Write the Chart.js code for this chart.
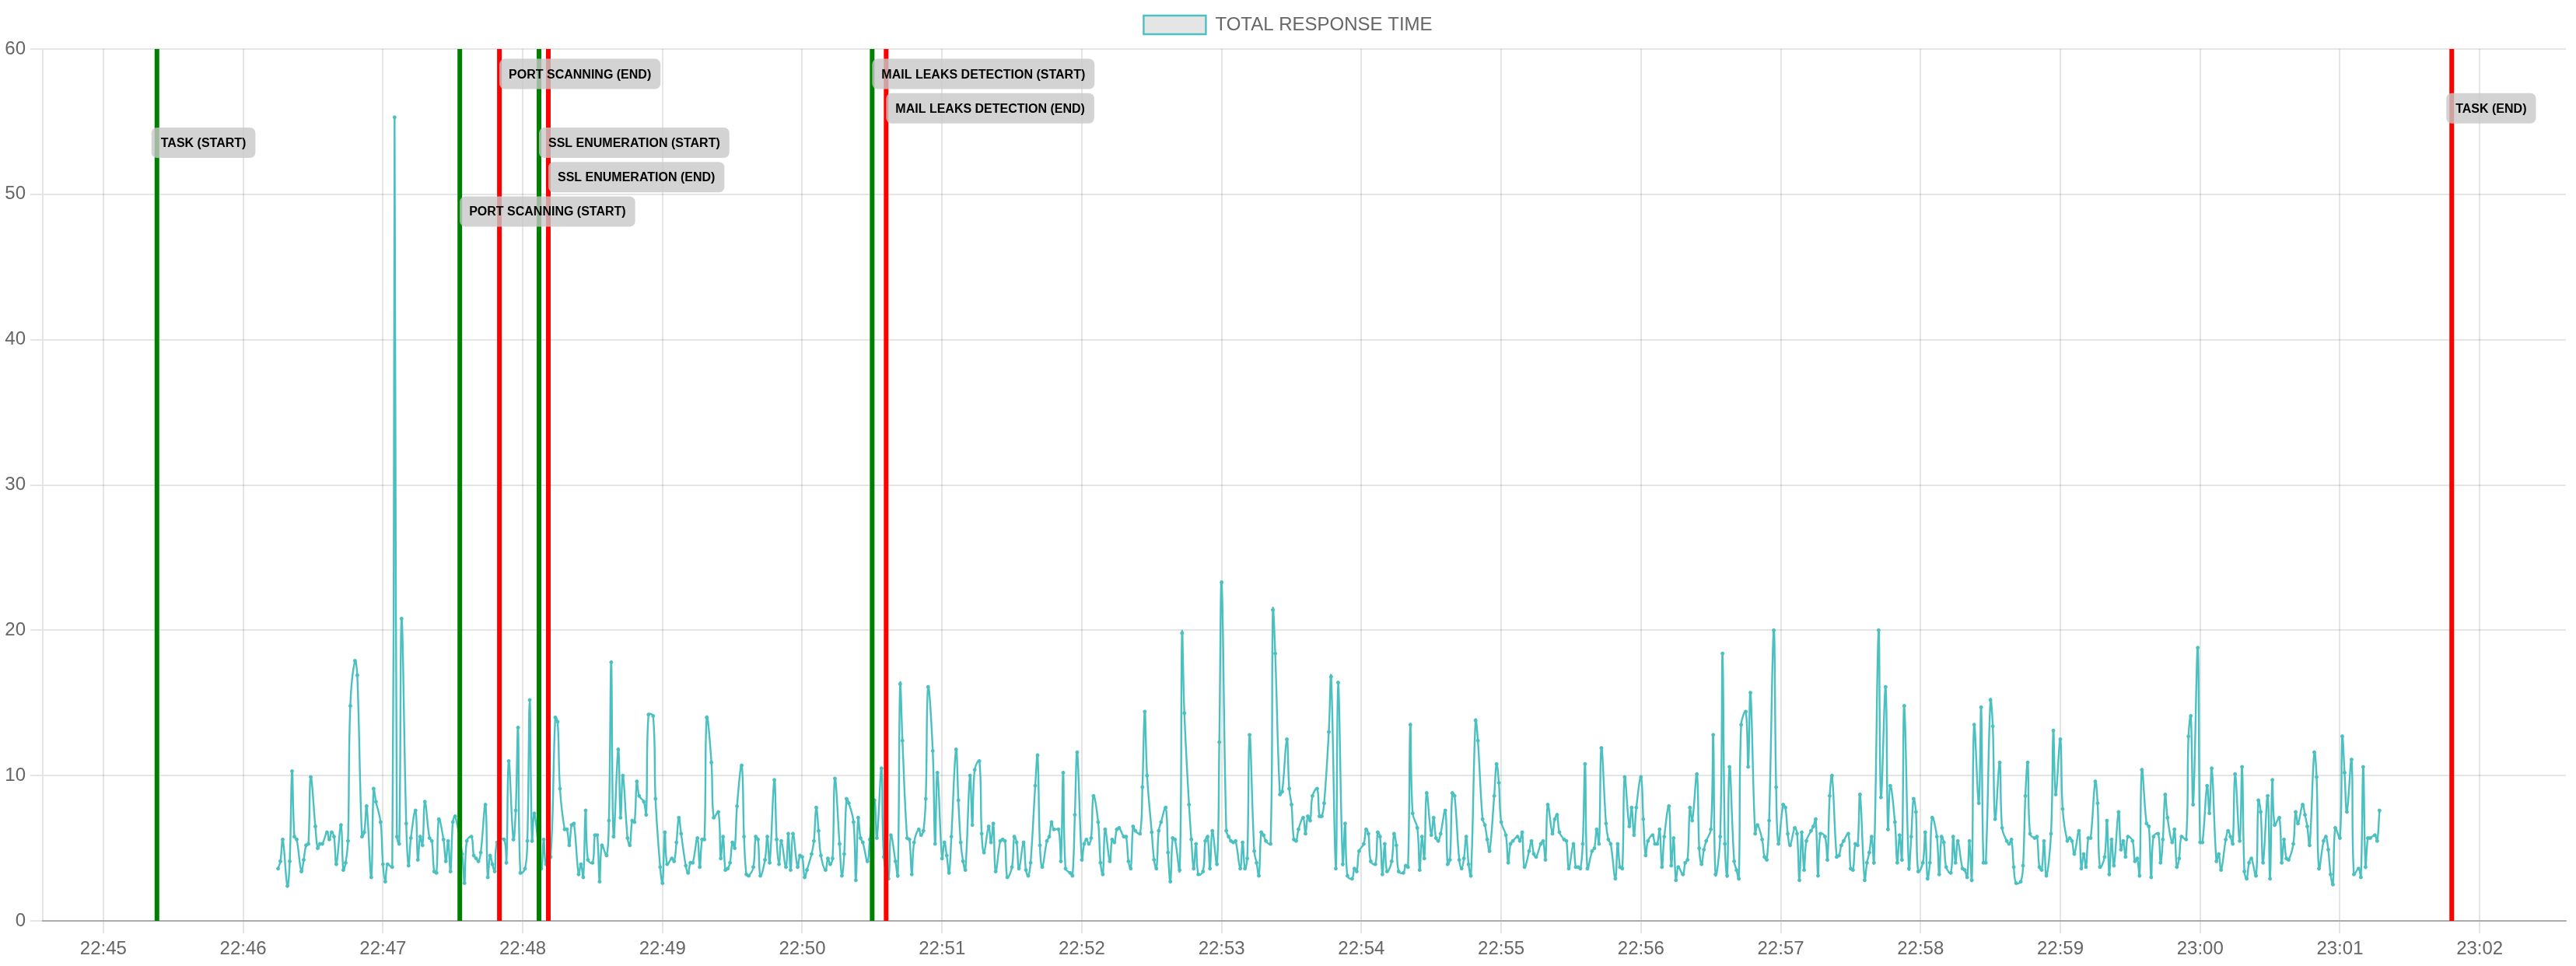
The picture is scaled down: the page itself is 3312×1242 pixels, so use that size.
<!DOCTYPE html>
<html lang="en">
<head>
  <meta charset="UTF-8" />
  <title>Total response time</title>
  <script src="https://cdn.jsdelivr.net/npm/chart.js"></script>
  <style>
    html, body { margin: 0; padding: 0; background: #fff; }
    .chart-box { width: 3312px; height: 1242px; }
  </style>
</head>
<body>
  <div class="chart-box"><canvas id="responseChart"></canvas></div>

  <script>
    // x values are seconds after 22:45:00
    const tickLabels = ['22:45', '22:46', '22:47', '22:48', '22:49', '22:50', '22:51', '22:52', '22:53',
      '22:54', '22:55', '22:56', '22:57', '22:58', '22:59', '23:00', '23:01', '23:02'];

    const timeSeconds = [
      75, 76, 77, 79, 80, 81, 82, 83, 85, 86, 87, 88, 89, 91, 92, 93, 94, 96, 97, 98,
      99, 100, 102, 103, 104, 105, 106, 108, 109, 111, 112, 113, 115, 116, 117, 119, 120, 121, 122, 124,
      125, 126, 127, 128, 130, 131, 132, 134, 135, 136, 137, 138, 140, 141, 142, 143, 144, 146, 147, 148,
      149, 150, 151, 154, 155, 156, 158, 159, 160, 161, 162, 164, 165, 166, 167, 168, 169, 172, 173, 174,
      176, 177, 178, 179,
      181, 182, 183, 184, 185, 188, 189, 190, 192, 194, 195, 196, 198, 199, 200, 201, 202, 204, 205, 206,
      207, 208, 210, 211, 212, 213, 214, 216, 217, 218, 219, 221, 222, 223, 225, 226, 227, 228, 229, 230,
      232, 233, 234, 236, 237, 239, 240, 241, 242, 244, 245, 246, 247, 248, 250, 251, 252, 253, 255, 256,
      257, 258, 259, 261, 262, 264, 265, 266, 267, 268, 269, 270, 271, 272, 274, 275, 276, 277, 279, 280,
      281, 282, 284, 285, 286, 288, 289, 290, 291, 293, 294,
      295, 296, 298, 299, 300, 301, 302, 304, 305, 306, 307, 308, 310, 311, 312, 313, 314, 316, 317, 318,
      319, 320, 322, 323, 324, 325, 326, 328, 329, 331, 332, 334, 335, 337, 338, 340, 341, 342, 343, 345,
      346, 347, 348, 350, 351, 352, 353, 354, 356, 357, 358, 360, 361, 362, 363, 364, 366, 367, 368, 369,
      370, 372, 373, 374, 376, 377, 378, 380, 381, 382, 383, 385, 386, 387, 388, 390, 391, 392, 393, 395,
      396, 397, 398, 400, 401, 402, 403, 405, 406, 407, 408,
      410, 411, 412, 413, 415, 416, 417, 418, 420, 421, 422, 423, 424, 425, 427, 428, 429, 430, 432, 433,
      434, 435, 436, 438, 439, 440, 441, 442, 443, 445, 446, 447, 448, 450, 451, 452, 453, 454, 456, 457,
      458, 459, 460, 462, 463, 464, 466, 467, 468, 469, 470, 472, 473, 474, 475, 476, 478, 479, 480, 482,
      483, 484, 485, 486, 488, 489, 490, 491, 492, 494, 495, 496, 497, 498, 499, 501, 502, 503, 505, 506,
      508, 509, 510, 511, 512, 513, 515, 516, 517, 518, 519, 521, 522,
      523, 524, 526, 527, 529, 530, 532, 533, 534, 536, 537, 538, 539, 541, 542, 543, 544, 546, 547, 548,
      549, 550, 551, 553, 554, 555, 556, 558, 559, 560, 561, 562, 564, 565, 566, 567, 568, 570, 571, 572,
      573, 574, 576, 577, 578, 579, 580, 582, 583, 584, 585, 586, 587, 589, 590, 592, 593, 594, 595, 597,
      598, 599, 600, 602, 603, 604, 605, 607, 608, 609, 610, 612, 613, 614, 615, 617, 618, 619, 620, 622,
      623, 624, 625, 627, 628, 629, 631, 632, 633, 634, 635,
      636, 637, 639, 640, 641, 642, 643, 645, 646, 647, 649, 650, 651, 652, 653, 655, 656, 657, 658, 660,
      661, 662, 663, 665, 666, 667, 668, 669, 670, 672, 673, 674, 675, 676, 678, 679, 680, 681, 682, 684,
      685, 686, 687, 688, 690, 691, 692, 694, 695, 696, 697, 698, 700, 701, 702, 703, 705, 706, 707, 709,
      710, 712, 713, 714, 715, 717, 718, 719, 721, 722, 723, 724, 726, 727, 728, 729, 730, 731, 733, 734,
      735, 736, 737, 739, 740, 741, 742, 744, 745, 746, 747,
      749, 750, 751, 752, 753, 754, 756, 757, 758, 759, 760, 762, 763, 765, 766, 767, 769, 770, 771, 772,
      773, 775, 776, 777, 778, 779, 781, 782, 783, 784, 785, 787, 788, 789, 790, 791, 793, 794, 795, 796,
      798, 799, 800, 801, 802, 803, 805, 806, 807, 808, 810, 811, 812, 814, 815, 817, 818, 819, 820, 821,
      823, 824, 825, 826, 827, 829, 830, 831, 832, 833, 834, 836, 837, 838, 840, 841, 843, 844, 845, 846,
      848, 849, 850, 851, 852, 853, 855, 856, 857, 859, 860, 861, 862,
      863, 865, 866, 867, 868, 869, 871, 872, 873, 874, 875, 877, 878, 879, 880, 882, 883, 884, 885, 886,
      888, 889, 890, 891, 892, 894, 895, 896, 897, 899, 900, 901, 903, 904, 905, 907, 908, 909, 911, 912,
      913, 914, 915, 917, 918, 919, 920, 921, 922, 924, 925, 926, 927, 929, 930, 931, 932, 934, 935, 936,
      937, 938, 940, 941, 942, 944, 945, 946, 947, 949, 950, 951, 953, 954, 955, 956, 957, 958, 960, 961,
      962, 963, 965, 966, 968, 969, 970, 971, 972, 973, 975, 976, 977
    ];

    const responseTime = [
      3.6, 4.1, 5.6, 2.4, 4.1, 10.3, 5.8, 5.6, 3.4, 4.2, 5.2, 5.3, 9.9, 6.5, 5.0, 5.3, 5.3, 6.1, 5.6, 6.1,
      5.8, 3.9, 6.6, 3.5, 4.0, 5.5, 14.8, 17.9, 16.9, 5.8, 6.1, 7.9, 3.0, 9.1, 8.2, 6.8, 3.9, 2.7, 3.9, 3.7,
      55.3, 5.8, 5.3, 20.8, 6.7, 3.8, 5.7, 7.6, 4.2, 5.8, 5.2, 8.2, 5.7, 5.5, 3.4, 3.3, 7.0, 5.6, 4.1, 5.5,
      3.4, 6.8, 7.2, 4.6, 2.6, 5.5, 5.8, 4.5, 4.3, 4.1, 4.7, 8.0, 3.0, 4.5, 3.9, 3.4, 5.4, 5.6, 4.0, 11.0,
      5.6, 7.6, 13.3, 3.3,
      3.6, 5.5, 15.2, 5.5, 7.4, 3.6, 5.6, 3.9, 4.4, 14.0, 13.7, 9.1, 6.3, 6.3, 5.2, 6.6, 6.7, 3.2, 3.9, 3.0,
      7.6, 4.2, 4.0, 5.9, 5.9, 2.7, 5.2, 4.5, 6.9, 17.8, 5.8, 11.8, 7.1, 10.0, 5.7, 5.2, 6.9, 6.8, 9.6, 8.6,
      8.2, 7.3, 14.2, 14.1, 8.4, 3.7, 2.6, 6.1, 3.9, 4.3, 4.1, 5.4, 7.1, 6.0, 3.8, 3.3, 4.0, 4.0, 5.7, 3.7,
      5.6, 5.6, 14.0, 10.9, 7.1, 7.5, 4.3, 5.8, 3.5, 3.6, 4.0, 5.4, 5.0, 7.9, 10.7, 5.8, 3.2, 3.1, 3.7, 5.8,
      5.6, 3.1, 4.2, 5.8, 4.0, 9.7, 5.6, 3.9, 5.5, 3.7, 6.0,
      3.5, 6.0, 3.7, 4.5, 4.4, 3.0, 3.5, 4.6, 5.5, 7.8, 6.2, 4.5, 3.5, 4.3, 3.9, 4.3, 9.8, 5.3, 3.1, 4.6,
      8.4, 8.1, 6.8, 2.8, 7.1, 5.7, 5.4, 4.1, 5.6, 8.3, 5.7, 10.5, 4.4, 2.9, 5.9, 4.1, 3.1, 16.3, 12.4, 5.7,
      5.6, 3.2, 5.4, 6.3, 5.9, 6.2, 8.4, 16.1, 11.7, 5.3, 10.2, 4.3, 5.4, 4.5, 3.3, 5.8, 11.8, 8.3, 5.4, 4.1,
      3.5, 10.0, 6.6, 10.4, 11.0, 6.0, 4.7, 6.5, 5.4, 6.7, 3.4, 5.5, 5.6, 5.5, 3.0, 3.7, 5.8, 5.4, 3.6, 5.4,
      3.5, 3.1, 4.0, 9.3, 11.4, 5.2, 3.7, 5.5, 5.8, 6.8, 6.3,
      6.3, 4.1, 10.2, 3.6, 3.3, 3.1, 7.3, 11.6, 4.2, 5.3, 5.6, 5.3, 5.7, 8.6, 6.8, 4.0, 3.2, 6.3, 4.1, 5.6,
      5.4, 6.3, 6.4, 5.8, 5.8, 4.1, 3.6, 6.5, 6.2, 6.0, 9.2, 14.4, 10.0, 6.1, 4.2, 3.6, 6.2, 6.8, 7.8, 4.7,
      2.7, 5.7, 5.6, 3.5, 19.8, 14.3, 8.0, 5.6, 3.6, 5.3, 3.2, 3.4, 5.5, 5.8, 3.6, 6.2, 3.9, 12.3, 23.3, 6.2,
      5.8, 5.5, 5.4, 5.5, 3.6, 5.4, 3.6, 4.3, 12.8, 4.8, 4.0, 3.1, 6.1, 5.9, 5.5, 5.3, 21.4, 18.4, 8.7, 8.9,
      12.5, 9.1, 8.0, 5.6, 5.5, 6.3, 7.1, 6.0, 7.2, 6.9, 8.6, 9.1, 7.2,
      7.2, 8.1, 13.0, 16.8, 3.6, 16.4, 3.9, 6.7, 3.1, 2.9, 3.6, 3.4, 4.8, 5.3, 6.3, 6.0, 4.1, 3.9, 6.1, 5.8,
      3.2, 5.3, 3.4, 4.1, 6.0, 5.2, 3.4, 3.3, 3.8, 3.7, 13.5, 7.4, 6.4, 3.5, 5.8, 4.3, 8.8, 5.9, 7.1, 5.7,
      5.5, 6.0, 7.6, 3.9, 4.2, 8.8, 8.6, 4.2, 3.6, 4.3, 5.8, 3.9, 3.1, 13.8, 12.4, 7.0, 6.6, 5.6, 4.8, 8.6,
      10.8, 9.5, 6.8, 5.9, 4.0, 5.3, 5.5, 5.8, 5.5, 6.1, 3.7, 4.8, 5.5, 4.6, 4.4, 5.3, 5.5, 4.2, 8.0, 6.0,
      7.0, 7.3, 6.1, 5.6, 5.5, 3.6, 5.3, 3.7, 3.7, 3.6, 5.3,
      10.8, 3.6, 4.8, 5.0, 6.3, 5.3, 11.9, 6.7, 5.6, 5.3, 2.9, 5.3, 3.7, 3.6, 9.9, 6.5, 7.8, 5.9, 7.8, 9.9,
      7.0, 4.5, 5.5, 5.9, 5.3, 5.3, 6.3, 3.7, 5.8, 7.9, 3.8, 5.7, 2.8, 3.7, 3.2, 4.0, 4.2, 7.8, 6.9, 10.1,
      5.0, 3.9, 4.9, 5.5, 6.3, 12.8, 3.2, 5.8, 18.4, 5.3, 3.1, 10.6, 4.1, 3.5, 2.9, 13.5, 14.4, 10.6, 15.7, 6.0,
      6.6, 5.6, 4.4, 4.2, 6.9, 20.0, 9.2, 5.3, 8.0, 7.8, 6.0, 5.2, 6.4, 6.0, 2.8, 6.1, 3.5, 5.5, 6.2, 6.5,
      7.0, 3.1, 6.0, 5.8, 4.2, 8.6, 10.0, 4.4, 4.5, 5.2, 5.5,
      6.0, 3.6, 3.5, 5.3, 5.2, 8.7, 2.8, 4.0, 4.7, 5.8, 4.0, 20.0, 8.5, 16.1, 6.3, 9.3, 6.8, 4.0, 5.9, 4.2,
      14.8, 3.6, 5.8, 8.4, 7.5, 3.4, 4.0, 6.1, 2.9, 4.0, 7.1, 5.8, 3.2, 5.8, 5.4, 3.7, 3.3, 5.8, 4.0, 5.5,
      3.6, 3.5, 3.0, 5.5, 2.8, 13.5, 8.1, 14.7, 4.0, 4.0, 15.2, 13.4, 7.0, 10.9, 6.4, 5.5, 5.3, 5.6, 3.7, 2.6,
      2.7, 3.8, 8.6, 10.9, 6.0, 5.7, 5.8, 3.7, 3.5, 5.5, 3.1, 6.0, 13.1, 8.7, 12.5, 7.7, 5.5, 5.7, 5.5, 4.6,
      6.2, 3.6, 4.6, 3.7, 5.7, 5.7, 9.6, 8.1, 3.7, 4.4, 6.9, 3.2, 5.6,
      3.8, 7.5, 4.9, 5.5, 4.4, 5.8, 5.5, 4.1, 4.3, 3.1, 10.4, 6.7, 6.5, 3.0, 5.8, 6.0, 4.0, 5.6, 8.7, 7.1,
      5.4, 6.3, 3.7, 4.3, 5.8, 5.6, 12.7, 14.1, 8.0, 18.8, 5.4, 5.4, 9.3, 7.4, 10.5, 4.1, 4.6, 3.5, 5.6, 6.2,
      5.8, 5.3, 10.1, 5.5, 10.6, 3.4, 2.9, 4.0, 4.3, 3.1, 8.3, 7.5, 4.0, 8.6, 2.9, 9.7, 6.6, 7.1, 4.0, 5.6,
      4.3, 4.2, 5.3, 7.5, 6.7, 8.0, 7.3, 6.5, 5.2, 11.6, 9.9, 3.6, 5.5, 5.8, 4.9, 3.2, 2.5, 6.4, 5.7, 12.7,
      10.2, 7.5, 11.1, 3.2, 3.6, 3.0, 10.6, 3.7, 5.7, 5.7, 5.9, 5.5, 7.6
    ];

    const eventNames = ['TASK (START)', 'PORT SCANNING (START)', 'PORT SCANNING (END)', 'SSL ENUMERATION (START)',
      'SSL ENUMERATION (END)', 'MAIL LEAKS DETECTION (START)', 'MAIL LEAKS DETECTION (END)', 'TASK (END)'];
    const eventSeconds = [23, 153, 170, 187, 191, 330, 336, 1008];
    const eventKinds = ['start', 'start', 'end', 'start', 'end', 'start', 'end', 'end'];

    // label placement (row from top, small x nudge)
    const labelRows = [2, 4, 0, 2, 3, 0, 1, 1];
    const labelNudge = [-7, 0, 0, 0, 0, 0, 0, -7];

    const toSeconds = label => {
      const [h, m] = label.split(':').map(Number);
      return (h * 60 + m - (22 * 60 + 45)) * 60;
    };

    const teal = 'rgb(75, 192, 192)';
    const gridColor = 'rgba(0, 0, 0, 0.1)';
    Chart.defaults.font.family = "'Liberation Sans', Arial, sans-serif";
    Chart.defaults.color = '#666';

    const eventLines = {
      id: 'eventLines',
      afterDatasetsDraw(chart) {
        const { ctx, chartArea, scales: { x } } = chart;
        ctx.save();
        eventSeconds.forEach((s, i) => {
          const px = x.getPixelForValue(s);
          ctx.strokeStyle = eventKinds[i] === 'start' ? '#008000' : '#ff0000';
          ctx.lineWidth = 6;
          ctx.beginPath();
          ctx.moveTo(px, chartArea.top);
          ctx.lineTo(px, chartArea.bottom);
          ctx.stroke();
        });
        ctx.font = "bold 16px 'Liberation Sans', Arial, sans-serif";
        ctx.textAlign = 'center';
        ctx.textBaseline = 'middle';
        eventNames.forEach((name, i) => {
          const left = x.getPixelForValue(eventSeconds[i]) + labelNudge[i];
          const w = ctx.measureText(name).width + 24;
          const h = 39;
          const top = chartArea.top + 12.6 + labelRows[i] * 44.2;
          ctx.fillStyle = 'rgba(200, 200, 200, 0.8)';
          ctx.beginPath();
          ctx.roundRect(left, top, w, h, 7);
          ctx.fill();
          ctx.fillStyle = '#000';
          ctx.fillText(name, left + w / 2, top + h / 2 + 1);
        });
        ctx.restore();
      }
    };

    // the legend sits right above the plot by default; lift it a little
    const legendLift = {
      id: 'legendLift',
      afterLayout(chart) {
        chart.legend.top -= 9;
        chart.legend.bottom -= 9;
      }
    };

    const ctx = document.getElementById('responseChart').getContext('2d');
    new Chart(ctx, {
      type: 'line',
      data: {
        datasets: [{
          label: 'TOTAL RESPONSE TIME',
          data: timeSeconds.map((s, i) => ({ x: s, y: responseTime[i] })),
          borderColor: teal,
          backgroundColor: 'rgba(0, 0, 0, 0.1)',
          borderWidth: 2.4,
          fill: false,
          tension: 0.4,
          pointRadius: 2,
          pointBorderWidth: 1,
          pointBackgroundColor: teal,
          pointBorderColor: teal
        }]
      },
      options: {
        responsive: true,
        maintainAspectRatio: false,
        animation: false,
        devicePixelRatio: 1,
        scales: {
          x: {
            type: 'linear',
            min: -26,
            max: 1057,
            afterBuildTicks: scale => {
              scale.ticks = tickLabels.map(l => ({ value: toSeconds(l) }));
            },
            afterFit: scale => {
              scale.height = 58;
              scale.paddingLeft = 0;
              scale.paddingRight = 13;
            },
            ticks: {
              callback: (value, i) => tickLabels[i],
              autoSkip: false,
              maxRotation: 0,
              font: { size: 24 },
              color: '#666',
              padding: 6
            },
            grid: { color: gridColor, lineWidth: 2, tickLength: 16 },
            border: { color: 'rgba(0, 0, 0, 0.25)', width: 2 }
          },
          y: {
            min: 0,
            max: 60,
            afterFit: scale => {
              scale.width = 55;
              scale.paddingTop = 63;
              scale.paddingBottom = 0;
            },
            ticks: { stepSize: 10, font: { size: 24 }, color: '#666', padding: 6 },
            grid: { color: gridColor, lineWidth: 2, tickLength: 16 },
            border: { color: gridColor, width: 2 }
          }
        },
        plugins: {
          legend: {
            labels: {
              font: { size: 24 },
              color: '#666',
              boxWidth: 80,
              boxHeight: 24,
              padding: 10
            }
          },
          tooltip: { enabled: false }
        }
      },
      plugins: [eventLines, legendLift]
    });
  </script>
</body>
</html>
